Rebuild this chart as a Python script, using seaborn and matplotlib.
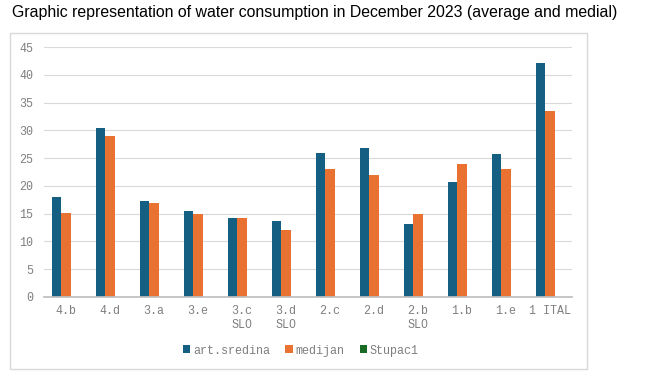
import pandas as pd
import numpy as np
import matplotlib
matplotlib.use('Agg')
import matplotlib.pyplot as plt
import seaborn as sns
from matplotlib.patches import Rectangle, Patch

# Values
categories = ['4.b', '4.d', '3.a', '3.e', '3.c\nSLO', '3.d\nSLO', '2.c', '2.d',
              '2.b\nSLO', '1.b', '1.e', '1 ITAL']
art_sredina = [18.0, 30.5, 17.2, 15.4, 14.2, 13.6, 26.0, 26.8, 13.1, 20.7, 25.7, 42.2]
medijan = [15.2, 29.0, 17.0, 15.0, 14.2, 12.0, 23.0, 22.0, 15.0, 24.0, 23.0, 33.5]
stupac1 = [np.nan] * len(categories)

series_names = ['art.sredina', 'medijan', 'Stupac1']
colors = ['#156082', '#E97132', '#196B24']

df = pd.DataFrame({
    'kategorija': categories * 3,
    'serija': np.repeat(series_names, len(categories)),
    'vrijednost': art_sredina + medijan + stupac1,
})

sns.set_theme(style='white')
mono = 'Liberation Mono'
grey = '#7f7f7f'
fs = 8.4

fig = plt.figure(figsize=(6.48, 3.81), dpi=100)
ax = fig.add_axes([0.068, 0.221, 0.815, 0.655])

# outer chart frame
fig.patches.append(Rectangle((10 / 648, 1 - 369 / 381), 577 / 648, 336 / 381,
                             transform=fig.transFigure, fill=False,
                             edgecolor='#d9d9d9', linewidth=1.0, zorder=0))

sns.barplot(data=df.dropna(), x='kategorija', y='vrijednost', hue='serija',
            order=categories, hue_order=series_names, palette=colors,
            width=0.66, legend=False, ax=ax, saturation=1, linewidth=0)

ax.set_ylim(0, 45)
ax.set_xlim(-0.5, len(categories) - 0.5)
ax.set_yticks(range(0, 46, 5))
ax.yaxis.grid(True, color='#d9d9d9', linewidth=0.8)
ax.set_axisbelow(True)
ax.set_xlabel('')
ax.set_ylabel('')

for s in ['top', 'right', 'left']:
    ax.spines[s].set_visible(False)
ax.spines['bottom'].set_color('#bfbfbf')

ax.tick_params(axis='y', length=0, labelsize=fs, labelcolor=grey, pad=8)
ax.tick_params(axis='x', length=0, labelsize=fs, labelcolor=grey, pad=6)
for lbl in ax.get_xticklabels() + ax.get_yticklabels():
    lbl.set_fontfamily(mono)

# small separators between categories
ax.set_xticks(np.arange(-0.5, len(categories), 1.0), minor=True)
ax.tick_params(axis='x', which='minor', length=4, color='#bfbfbf', width=0.8)

handles = [Patch(facecolor=c, edgecolor='none') for c in colors]
leg = fig.legend(handles, series_names, loc='center', bbox_to_anchor=(0.464, 0.08),
                 ncol=3, frameon=False, handlelength=0.65, handleheight=0.65,
                 handletextpad=0.2, columnspacing=1.3,
                 prop={'family': mono, 'size': 8.5})
for t in leg.get_texts():
    t.set_color(grey)

fig.text(12 / 648, 1 - 17.5 / 381, 'Graphic representation of water consumption in December 2023 (average and medial)',
         fontsize=11.4, family='Liberation Sans', color='black', va='baseline', ha='left')

fig.savefig('out.png', dpi=100)
